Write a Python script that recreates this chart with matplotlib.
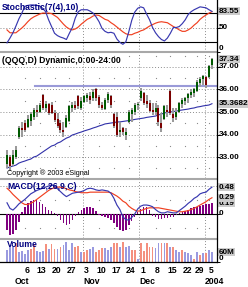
import matplotlib
matplotlib.use("Agg")
import matplotlib.pyplot as plt
import matplotlib.transforms as mtransforms
from matplotlib.lines import Line2D

W, H = 248, 287
DPI = 100
PLOT_R = 217
XLIM = (-2.36, 70.7)
FS = 5.9
NAVY = '#000080'
GRID = '#8c8c8c'

plt.rcParams['font.family'] = ['Liberation Sans Narrow', 'Liberation Sans', 'DejaVu Sans']
plt.rcParams['font.weight'] = 'bold'

# ---- data (one entry per trading day, Sep 26 2003 .. Jan 6 2004) ----
OPEN = [32.7, 33.0, 32.7, 33.0, 33.9, 34.3, 34.5, 34.35, 34.6, 34.8,
        35.1, 35.0, 35.75, 35.2, 35.35, 35.3, 34.95, 34.7, 34.5, 34.2,
        34.35, 34.6, 35.2, 35.3, 35.7, 35.2, 35.45, 35.6, 35.7, 35.6,
        36.0, 35.65, 35.3, 35.15, 35.55, 35.7, 34.9, 34.8, 34.1, 34.3,
        34.0, 34.55, 34.9, 35.0, 35.3, 35.6, 35.85, 35.5, 35.4, 35.1,
        35.0, 35.2, 34.5, 34.7, 35.1, 35.95, 34.9, 34.8, 35.0, 35.35,
        35.5, 35.6, 35.75, 35.85, 35.95, 36.3, 36.45, 36.55, 36.55, 37.1]
HIGH = [33.3, 33.1, 33.3, 33.5, 34.4, 34.55, 34.65, 34.85, 35.0, 35.2,
        35.3, 35.4, 35.8, 35.5, 35.4, 35.45, 35.1, 34.95, 34.65, 34.55,
        34.85, 35.3, 35.45, 35.5, 35.75, 35.65, 35.75, 35.85, 35.9, 36.0,
        36.08, 35.75, 35.45, 35.6, 35.9, 35.75, 34.95, 35.0, 34.55, 34.35,
        34.3, 35.1, 35.2, 35.4, 35.45, 36.07, 35.9, 35.75, 35.55, 35.4,
        35.4, 35.3, 34.95, 35.3, 35.3, 36.0, 35.2, 35.2, 35.45, 35.6,
        35.65, 35.85, 36.0, 36.05, 36.4, 36.55, 36.65, 36.6, 37.1, 37.4]
LOW = [32.5, 32.4, 32.6, 32.9, 33.8, 33.9, 34.1, 34.3, 34.4, 34.65,
       34.8, 34.95, 35.1, 35.0, 34.85, 34.9, 34.55, 34.3, 34.05, 33.9,
       34.3, 34.55, 35.0, 35.1, 35.15, 35.1, 35.4, 35.45, 35.35, 35.5,
       35.5, 35.2, 35.1, 35.1, 35.4, 35.2, 34.3, 33.9, 33.9, 34.0,
       33.75, 34.5, 34.55, 34.85, 35.1, 35.5, 35.3, 35.2, 35.0, 34.85,
       34.85, 34.4, 34.1, 34.65, 34.8, 34.85, 34.55, 34.65, 34.95, 35.2,
       35.3, 35.4, 35.6, 35.65, 35.9, 36.1, 36.2, 36.05, 36.5, 36.9]
CLOSE = [33.1, 32.6, 33.1, 33.3, 34.3, 34.2, 34.2, 34.7, 34.9, 35.1,
         35.0, 35.3, 35.2, 35.35, 34.95, 34.95, 34.65, 34.4, 34.2, 34.1,
         34.75, 35.25, 35.3, 35.2, 35.25, 35.5, 35.7, 35.75, 35.55, 35.9,
         35.6, 35.3, 35.2, 35.55, 35.8, 35.3, 34.4, 34.0, 34.2, 34.1,
         34.1, 35.0, 35.1, 35.3, 35.35, 35.95, 35.4, 35.35, 35.05, 35.0,
         35.2, 34.55, 34.3, 35.25, 35.0, 34.95, 34.75, 35.0, 35.4, 35.55,
         35.6, 35.8, 35.9, 36.0, 36.35, 36.45, 36.6, 36.2, 37.05, 37.34]
MOV_AVG = [32.51, 32.56, 32.6, 32.64, 32.73, 32.78, 32.82, 32.87, 32.91, 33.0,
           33.04, 33.13, 33.22, 33.31, 33.4, 33.49, 33.53, 33.62, 33.67, 33.76,
           33.84, 33.89, 33.98, 34.02, 34.07, 34.11, 34.16, 34.2, 34.24, 34.29,
           34.33, 34.38, 34.42, 34.47, 34.49, 34.51, 34.53, 34.56, 34.56, 34.58,
           34.6, 34.62, 34.64, 34.67, 34.69, 34.71, 34.73, 34.76, 34.78, 34.8,
           34.82, 34.87, 34.91, 34.96, 34.98, 35.0, 35.02, 35.04, 35.07, 35.09,
           35.11, 35.13, 35.16, 35.18, 35.22, 35.24, 35.27, 35.29, 35.31, 35.3682]
RESIST_LEVEL = 36.15
RESIST_START = 9.4

STOCH_K = [18, 28, 39, 53, 68, 80, 94, 96, 97, 97,
           96, 95, 90, 83, 66, 52, 38, 33, 30, 28,
           25, 38, 50, 70, 83, 87, 87, 87, 84, 80,
           72, 62, 48, 42, 39, 40, 38, 26, 19, 15,
           20, 41, 65, 82, 90, 93, 91, 78, 66, 50,
           39, 31, 25, 22, 28, 38, 50, 50, 52, 58,
           66, 77, 83, 87, 90, 93, 92, 91, 87, 83.55]
STOCH_D = [45, 39, 39, 39, 44, 49, 55, 62, 68, 72,
           75, 78, 80, 80, 80, 79, 75, 71, 64, 57,
           51, 47, 45, 47, 51, 57, 62, 67, 70, 74,
           76, 75, 71, 67, 65, 60, 56, 51, 46, 41,
           37, 35, 35, 38, 40, 43, 45, 49, 53, 56,
           59, 61, 62, 61, 60, 56, 52, 49, 45, 42,
           42, 45, 49, 55, 60, 67, 72, 76, 80, 83]

MACD = [0.2, 0.1, 0.07, 0.12, 0.18, 0.22, 0.26, 0.31, 0.36, 0.39,
        0.42, 0.44, 0.46, 0.48, 0.5, 0.52, 0.5, 0.45, 0.4, 0.35,
        0.31, 0.34, 0.37, 0.38, 0.39, 0.4, 0.42, 0.45, 0.46, 0.45,
        0.43, 0.42, 0.43, 0.42, 0.41, 0.37, 0.28, 0.16, 0.08, -0.05,
        -0.1, -0.11, -0.06, 0.0, 0.09, 0.14, 0.16, 0.16, 0.15, 0.13,
        0.08, 0.04, 0.02, 0.02, 0.04, 0.03, 0.02, 0.02, 0.06, 0.1,
        0.14, 0.19, 0.23, 0.28, 0.31, 0.36, 0.38, 0.39, 0.44, 0.48]
SIGNAL = [0.46, 0.41, 0.35, 0.3, 0.25, 0.2, 0.17, 0.17, 0.19, 0.22,
          0.26, 0.3, 0.34, 0.38, 0.42, 0.45, 0.47, 0.48, 0.48, 0.47,
          0.45, 0.43, 0.42, 0.4, 0.39, 0.38, 0.38, 0.38, 0.39, 0.39,
          0.39, 0.39, 0.39, 0.39, 0.39, 0.38, 0.35, 0.32, 0.28, 0.23,
          0.2, 0.14, 0.1, 0.07, 0.05, 0.06, 0.08, 0.1, 0.11, 0.11,
          0.11, 0.11, 0.1, 0.09, 0.08, 0.07, 0.06, 0.05, 0.04, 0.04,
          0.05, 0.06, 0.08, 0.1, 0.13, 0.16, 0.19, 0.22, 0.26, 0.29]
HIST = [-0.28, -0.37, -0.35, -0.28, -0.15, 0.03, 0.12, 0.2, 0.23, 0.25,
        0.25, 0.22, 0.17, 0.12, 0.08, 0.05, 0.02, -0.03, -0.1, -0.16,
        -0.2, -0.17, -0.1, -0.04, 0.03, 0.07, 0.1, 0.12, 0.13, 0.1,
        0.05, -0.02, -0.04, -0.05, -0.07, -0.1, -0.16, -0.24, -0.29, -0.3,
        -0.28, -0.2, -0.12, -0.05, 0.03, 0.09, 0.13, 0.12, 0.08, -0.03,
        -0.06, -0.09, -0.09, -0.07, -0.08, -0.06, -0.05, -0.02, 0.02, 0.04,
        0.06, 0.08, 0.1, 0.12, 0.13, 0.14, 0.16, 0.17, 0.18, 0.19]

VOLUME_M = [71, 102, 90, 115, 59, 65, 46, 71, 77, 108,
            65, 59, 65, 108, 77, 108, 77, 77, 90, 102,
            121, 71, 115, 90, 96, 59, 59, 71, 77, 90,
            59, 71, 84, 84, 71, 90, 115, 115, 90, 121,
            90, 96, 71, 71, 16, 115, 65, 115, 90, 90,
            84, 115, 115, 115, 115, 90, 90, 71, 59, 71,
            59, 53, 40, 16, 59, 40, 53, 53, 71, 59]
VOLUME_UP = [1, 1, 1, 0, 1, 1, 1, 1, 0, 0,
             1, 1, 1, 0, 1, 0, 0, 1, 0, 1,
             1, 1, 1, 0, 0, 1, 0, 0, 1, 1,
             0, 0, 0, 1, 1, 1, 0, 0, 1, 0,
             1, 1, 0, 0, 1, 0, 0, 0, 0, 0,
             1, 1, 0, 1, 0, 1, 0, 1, 1, 0,
             1, 1, 1, 0, 1, 0, 1, 0, 1, 1]

DAY_TICKS = [6, 11, 16, 21, 26, 31, 36, 41, 45, 50, 55, 60, 64, 68]
DAY_LABELS = ['6', '13', '20', '27', '3', '10', '17', '24', '1', '8', '15', '22', '29', '5']
MONTH_START = [3, 26, 45, 67]
MONTH_LABELS = ['Oct', 'Nov', 'Dec', '2004']

idx = list(range(len(CLOSE)))

fig = plt.figure(figsize=(W / DPI, H / DPI), dpi=DPI)
fig.patch.set_facecolor('white')


def px_axes(top, bottom):
    ax = fig.add_axes([0, 1 - bottom / H, PLOT_R / W, (bottom - top) / H])
    ax.set_xlim(*XLIM)
    for s in ax.spines.values():
        s.set_visible(False)
    ax.set_xticks([])
    ax.yaxis.tick_right()
    ax.tick_params(axis='y', length=2, width=0.7, color='black', labelright=False)
    ax.patch.set_alpha(0)
    for m in MONTH_START[1:]:
        ax.axvline(m - 0.4, color=GRID, lw=0.7, ls=(0, (1, 2)), zorder=0)
    return ax


def dot_rows(ax, levels):
    cols = [d for d in DAY_TICKS if d not in MONTH_START]
    for lv in levels:
        ax.plot(cols, [lv] * len(cols), ls='none', marker='s', ms=0.8,
                color=GRID, mec='none', zorder=0)


def rlabel(ax, y, s, box=False, va='center'):
    tr = mtransforms.blended_transform_factory(ax.transAxes, ax.transData)
    kw = dict(transform=tr, fontsize=FS, ha='left', va=va, color='black',
              clip_on=False, zorder=5)
    if box:
        kw['bbox'] = dict(boxstyle='square,pad=0.06', fc='#cccccc', ec='none')
    ax.text(1 + 1.8 / PLOT_R, y, s, **kw)


# ---- stochastic ----
ax_s = px_axes(3.5, 51.5)
ax_s.set_ylim(0, 100)
ax_s.axhline(80, color='black', lw=0.8)
ax_s.axhline(20, color='black', lw=0.8)
ax_s.axhline(50, color=GRID, lw=0.7, ls=(0, (1, 2)), zorder=0)
ax_s.plot(idx, STOCH_D, color='#f04020', lw=0.85)
ax_s.plot(idx, STOCH_K, color='#3838b0', lw=0.85)
ax_s.set_yticks([83.55, 50, 0])
rlabel(ax_s, 83.55, '83.55', box=True)
rlabel(ax_s, 50, '50')
rlabel(ax_s, 0, '0', va='bottom')
ax_s.text(2 / PLOT_R, 0.92, 'Stochastic(7(4),10)', transform=ax_s.transAxes,
          fontsize=FS + 0.3, color=NAVY, va='center', zorder=6)

# ---- price ----
ax_p = px_axes(53, 178)
ax_p.set_ylim(32.067, 37.622)
for lv in [33, 34, 35, 36, 37]:
    ax_p.axhline(lv, color=GRID, lw=0.7, ls=(0, (1, 2)), zorder=0)
dot_rows(ax_p, [32.5, 33.5, 34.5, 35.5, 36.5, 37.5])
ax_p.plot([RESIST_START, XLIM[1]], [RESIST_LEVEL, RESIST_LEVEL], color='#9a9ad8', lw=1.5, zorder=1)
ax_p.plot(idx, MOV_AVG, color='#3030a8', lw=0.8, zorder=2)
ax_p.vlines(idx, LOW, HIGH, color='#9a9a9a', lw=1.45, zorder=3)
body_col = ['#005a00' if c >= o else '#7a0000' for o, c in zip(OPEN, CLOSE)]
ax_p.vlines(idx, OPEN, CLOSE, color=body_col, lw=1.45, zorder=4)
ax_p.set_yticks([37.34, 37, 36, 35.3682, 35, 34, 33])
rlabel(ax_p, 37.0, '37.00')
rlabel(ax_p, 37.34, '37.34', box=True)
for lv in [36, 34, 33]:
    rlabel(ax_p, lv, f'{lv:.2f}')
rlabel(ax_p, 35.0, '35.00')
rlabel(ax_p, 35.3682, '35.3682', box=True)
ax_p.text(2 / PLOT_R, 0.94, '(QQQ,D) Dynamic,0:00-24:00', transform=ax_p.transAxes,
          fontsize=FS + 0.3, color='black', va='center', zorder=6)
ax_p.text(7 / PLOT_R, 0.04, 'Copyright \u00ae 2003 eSignal', transform=ax_p.transAxes,
          fontsize=5.2, fontweight='normal', color='black', va='center', zorder=6)

# ---- MACD ----
ax_m = px_axes(180, 238)
ax_m.set_ylim(-0.4286, 0.6071)
ax_m.axhline(0.5, color=GRID, lw=0.7, ls=(0, (1, 2)), zorder=0)
dot_rows(ax_m, [0.25, -0.25])
ax_m.axhline(0, color='black', lw=0.8, zorder=1)
ax_m.bar(idx, HIST, width=0.5, color='#800080', zorder=2)
ax_m.plot(idx, SIGNAL, color='#f04020', lw=0.85, zorder=3)
ax_m.plot(idx, MACD, color='#3838b0', lw=0.85, zorder=3)
ax_m.set_yticks([0.48, 0.29, 0.19, 0])
rlabel(ax_m, 0.19, '0.19', box=True)
rlabel(ax_m, 0.29, '0.29', box=True)
rlabel(ax_m, 0.48, '0.48', box=True)
rlabel(ax_m, 0, '0')
ax_m.text(7 / PLOT_R, 0.88, 'MACD(12,26,9,C)', transform=ax_m.transAxes,
          fontsize=FS + 0.3, color=NAVY, va='center', zorder=6)

# ---- volume ----
ax_v = px_axes(240, 262)
ax_v.set_ylim(0, 132)
vol_col = ['#9a9ae0' if u else '#f4907e' for u in VOLUME_UP]
ax_v.bar(idx, VOLUME_M, width=0.62, color=vol_col, zorder=2)
ax_v.set_yticks([60, 0])
rlabel(ax_v, 60, '60M', box=True)
rlabel(ax_v, 0, '0', va='bottom')
ax_v.text(7 / PLOT_R, 0.78, 'Volume', transform=ax_v.transAxes,
          fontsize=FS + 0.3, color=NAVY, va='center', zorder=6)
ax_v.set_xticks(DAY_TICKS)
ax_v.set_xticklabels(DAY_LABELS, fontsize=FS + 0.3)
ax_v.tick_params(axis='x', length=0, pad=3.0)
shift = mtransforms.ScaledTranslation(2 / DPI, 0, fig.dpi_scale_trans)
for lbl in ax_v.get_xticklabels():
    lbl.set_transform(lbl.get_transform() + shift)
mtr = mtransforms.blended_transform_factory(ax_v.transData, fig.transFigure)
for m, s in zip(MONTH_START, MONTH_LABELS):
    fig.text(m - 0.4, 1 - 281 / H, s, transform=mtr, fontsize=FS + 0.3, ha='left', va='center')

# ---- frame: panel separators, right and bottom axis lines ----
for yy in [52.2, 179, 239]:
    fig.add_artist(Line2D([0, PLOT_R / W], [1 - yy / H] * 2, color='#a8a8a8', lw=1.5))
fig.add_artist(Line2D([PLOT_R / W] * 2, [1 - 262 / H, 1], color='black', lw=0.9))
fig.add_artist(Line2D([0, PLOT_R / W], [1 - 262 / H] * 2, color='black', lw=0.9))

fig.savefig('out.png', dpi=DPI, facecolor='white')
